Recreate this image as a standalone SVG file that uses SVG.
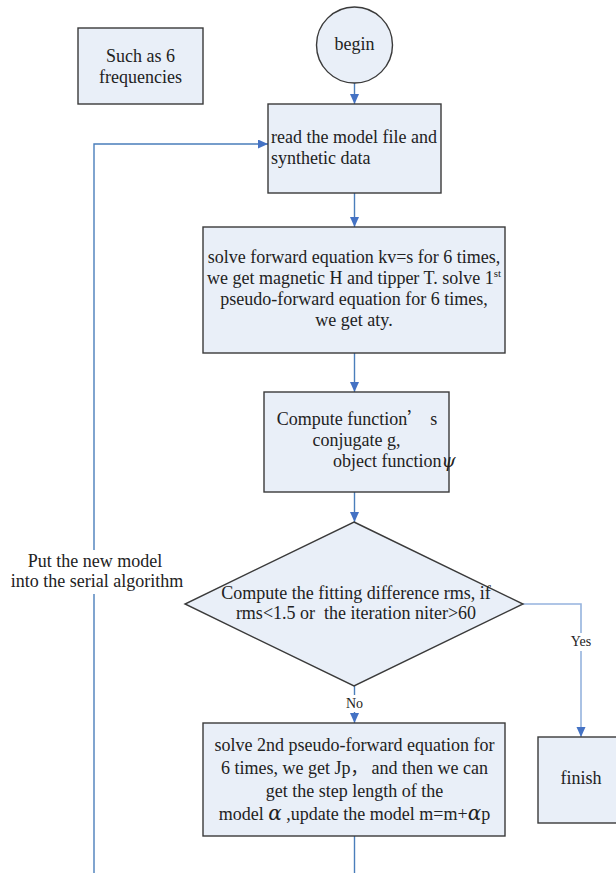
<svg xmlns="http://www.w3.org/2000/svg" width="616" height="873" viewBox="0 0 616 873">
  <style>
    .box { fill: #e9eff8; stroke: #3a3a3a; stroke-width: 1.4; }
    .t { font-family: "Liberation Serif", "Times New Roman", serif; font-size: 18px; fill: #222; }
    .c { text-anchor: middle; }
    .lbl { font-family: "Liberation Serif", "Times New Roman", serif; font-size: 14px; fill: #222; text-anchor: middle; }
    .cjk { font-family: "Noto Sans CJK SC", sans-serif; }
    .greek { font-family: "DejaVu Serif", "Liberation Serif", serif; font-style: italic; }
    .wire { fill: none; stroke: #4a7ebb; stroke-width: 1.4; }
    .wire-light { fill: none; stroke: #95b3de; stroke-width: 1.6; }
  </style>
  <defs>
    <marker id="arrow" markerUnits="userSpaceOnUse" markerWidth="10" markerHeight="10" refX="10" refY="4.5" orient="auto">
      <path d="M0,0 L10,4.5 L0,9 z" fill="#4472c4"/>
    </marker>
  </defs>

  <rect width="616" height="873" fill="#ffffff"/>

  <!-- connectors -->
  <g id="connectors">
    <path class="wire" d="M354.5,83 V104" marker-end="url(#arrow)"/>
    <path class="wire" d="M354.5,193 V227" marker-end="url(#arrow)"/>
    <path class="wire" d="M354.5,353 V392" marker-end="url(#arrow)"/>
    <path class="wire" d="M354.5,492 V522" marker-end="url(#arrow)"/>
    <!-- No branch -->
    <path class="wire" d="M354.5,686 V695"/>
    <path class="wire" d="M354.5,712 V723" marker-end="url(#arrow)"/>
    <text class="lbl" x="354.5" y="708">No</text>
    <!-- Yes branch -->
    <path class="wire-light" d="M523,604 H581 V633"/>
    <path class="wire-light" d="M581,651 V737" marker-end="url(#arrow)"/>
    <text class="lbl" x="581" y="646">Yes</text>
    <!-- loop back to the model reader -->
    <path class="wire" d="M354.5,836 V873"/>
    <path class="wire" d="M94,873 V594"/>
    <path class="wire" d="M94,550 V144 H268" marker-end="url(#arrow)"/>
    <text class="t c" x="95" y="567">Put the new model</text>
    <text class="t c" x="97" y="587">into the serial algorithm</text>
  </g>

  <g id="note-frequencies">
    <rect class="box" x="78" y="28" width="125" height="76"/>
    <text class="t c" x="140.5" y="62">Such as 6</text>
    <text class="t c" x="140.5" y="83">frequencies</text>
  </g>

  <g id="begin">
    <circle class="box" cx="354.5" cy="45" r="38"/>
    <text class="t c" x="354.5" y="50">begin</text>
  </g>

  <g id="read-model">
    <rect class="box" x="268" y="104" width="173" height="89"/>
    <text class="t" x="271" y="143">read the model file and</text>
    <text class="t" x="271" y="164">synthetic data</text>
  </g>

  <g id="forward">
    <rect class="box" x="203" y="227" width="302" height="126"/>
    <text class="t c" x="354" y="263">solve forward equation kv=s for 6 times,</text>
    <text class="t c" x="354" y="284">we get magnetic H and tipper T. solve 1<tspan font-size="11" dy="-7">st</tspan></text>
    <text class="t c" x="354" y="305">pseudo-forward equation for 6 times,</text>
    <text class="t c" x="354" y="326">we get aty.</text>
  </g>

  <g id="objective">
    <rect class="box" x="264" y="392" width="185" height="100"/>
    <text class="t c" x="357" y="425">Compute function<tspan class="cjk" font-size="17">’</tspan><tspan dx="6">s</tspan></text>
    <text class="t c" x="356.5" y="446">conjugate g,</text>
    <text class="t" x="333" y="467">object function<tspan class="greek">ψ</tspan></text>
  </g>

  <g id="convergence">
    <polygon class="box" points="354,522 523,604 354,686 185,604"/>
    <text class="t c" x="356" y="599">Compute the fitting difference rms, if</text>
    <text class="t c" x="356" y="619" xml:space="preserve">rms&lt;1.5 or  the iteration niter&gt;60</text>
  </g>

  <g id="update-model">
    <rect class="box" x="203" y="723" width="302" height="113"/>
    <text class="t c" x="354.5" y="751">solve 2nd pseudo-forward equation for</text>
    <text class="t c" x="354.5" y="774">6 times, we get Jp<tspan class="cjk" font-size="17">，</tspan><tspan dx="4">and then we can</tspan></text>
    <text class="t c" x="354.5" y="797">get the step length of the</text>
    <text class="t c" x="354.5" y="820">model <tspan class="greek" font-size="20">α</tspan> ,update the model m=m+<tspan class="greek" font-size="20">α</tspan>p</text>
  </g>

  <g id="finish">
    <rect class="box" x="538" y="737" width="86" height="86"/>
    <text class="t c" x="581" y="784">finish</text>
  </g>
</svg>
